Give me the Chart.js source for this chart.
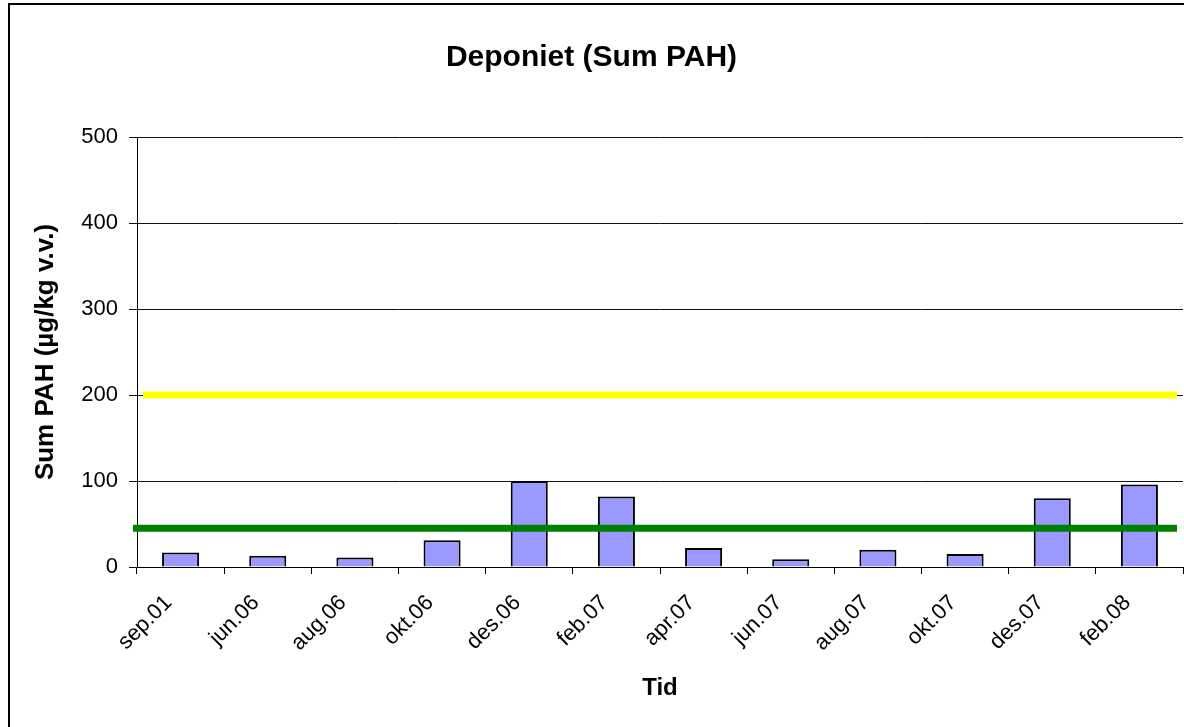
<!DOCTYPE html>
<html>
<head>
<meta charset="utf-8">
<script src="https://cdn.jsdelivr.net/npm/chart.js@4/dist/chart.umd.min.js"></script>
<style>
  html, body { margin: 0; padding: 0; background: #fff; overflow: hidden; }
  #wrap { position: relative; width: 1184px; height: 727px; overflow: hidden; }
  #frame { position: absolute; left: 8px; top: 3px; width: 1300px; height: 900px; border: 2px solid #000; }
  #c { position: absolute; left: 0; top: 0; }
</style>
</head>
<body>
<div id="wrap">
  <div id="frame"></div>
  <canvas id="c" width="1184" height="727"></canvas>
</div>
<script>
// Sampling dates and measured Sum PAH (µg/kg v.v.)
const categories = ['sep.01', 'jun.06', 'aug.06', 'okt.06', 'des.06', 'feb.07',
                    'apr.07', 'jun.07', 'aug.07', 'okt.07', 'des.07', 'feb.08'];
const sumPAH = [17, 13, 11, 31, 100, 82, 22, 9, 20, 15, 80, 96];
const yTicks = [0, 100, 200, 300, 400, 500];
// Reference levels drawn as horizontal lines (yellow, green)
const limitValues = [200, 45];

const FONT = 'Arial, "Liberation Sans", sans-serif';

// Horizontal reference lines across the plot area
const limitLines = {
  id: 'limitLines',
  afterDatasetsDraw(chart, args, opts) {
    const { ctx, chartArea: a, scales: { y } } = chart;
    opts.lines.forEach((l, i) => {
      const py = y.getPixelForValue(limitValues[i]);
      ctx.save();
      ctx.strokeStyle = l.color;
      ctx.lineWidth = l.width;
      ctx.lineCap = 'butt';
      ctx.beginPath();
      ctx.moveTo(a.left + l.startInset, py);
      ctx.lineTo(a.right - l.endInset, py);
      ctx.stroke();
      ctx.restore();
    });
  }
};

new Chart(document.getElementById('c'), {
  type: 'bar',
  data: {
    labels: categories,
    datasets: [{
      label: 'Sum PAH',
      data: sumPAH,
      backgroundColor: '#9999FF',
      borderColor: '#000000',
      borderWidth: 2,
      barPercentage: 0.425,
      categoryPercentage: 1.0
    }]
  },
  options: {
    responsive: false,
    animation: false,
    devicePixelRatio: 1,
    layout: { padding: { left: 0, top: 0, right: 1, bottom: 0 } },
    plugins: {
      legend: { display: false },
      tooltip: { enabled: false },
      title: {
        display: true,
        text: 'Deponiet (Sum PAH)',
        color: '#000',
        font: { family: FONT, size: 30, weight: 'bold' },
        padding: { top: 40, bottom: 61 }
      },
      limitLines: {
        lines: [
          { color: '#FFFF00', width: 7, startInset: 6, endInset: 6 },
          { color: '#008000', width: 7, startInset: -4, endInset: 6 }
        ]
      }
    },
    scales: {
      x: {
        afterFit(s) { s.height = 160; },
        grid: {
          display: true,
          drawOnChartArea: false,
          drawTicks: true,
          tickLength: 7,
          color: '#000',
          offset: true
        },
        border: { display: true, color: '#000', width: 1 },
        ticks: {
          color: '#000',
          font: { family: FONT, size: 22 },
          minRotation: 45,
          maxRotation: 45,
          autoSkip: false,
          padding: 16,
          labelOffset: -12
        },
        title: {
          display: true,
          text: 'Tid',
          color: '#000',
          font: { family: FONT, size: 24, weight: 'bold' },
          padding: { top: 0, bottom: 24 }
        }
      },
      y: {
        min: 0,
        max: 500,
        afterFit(s) { s.width = 137; },
        afterBuildTicks(s) { s.ticks = yTicks.map(v => ({ value: v })); },
        grid: {
          color: '#111',
          lineWidth: 1,
          drawTicks: true,
          tickLength: 8
        },
        border: { display: true, color: '#000', width: 1 },
        ticks: {
          color: '#000',
          font: { family: FONT, size: 22 },
          padding: 11
        },
        title: {
          display: true,
          text: 'Sum PAH (µg/kg v.v.)',
          color: '#000',
          font: { family: FONT, size: 26, weight: 'bold' },
          padding: { top: 30, bottom: 0 }
        }
      }
    }
  },
  plugins: [limitLines]
});
</script>
</body>
</html>
